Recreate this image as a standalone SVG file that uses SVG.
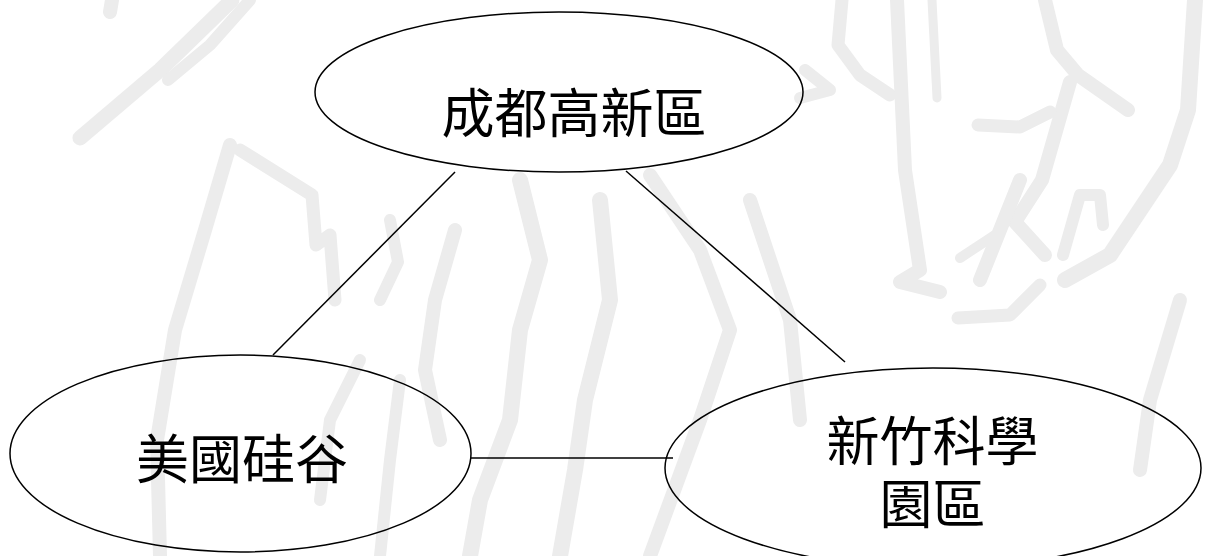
<svg xmlns="http://www.w3.org/2000/svg" width="1205" height="556" viewBox="0 0 1205 556">
<defs>
<style>
.wm{fill:none;stroke:#ececec;stroke-linecap:round;stroke-linejoin:round}
.node ellipse{fill:none;stroke:#000;stroke-width:1.5}
.node text{font-family:"Noto Sans CJK TC","Noto Sans CJK SC",sans-serif;font-size:53px;fill:#000;text-anchor:middle}
.edge{stroke:#000;stroke-width:1.5;fill:none}
</style>
</defs>
<rect width="1205" height="556" fill="#fff"/>
<g id="watermark">
<path class="wm" stroke-width="14" d="M112 0 L110 12"/>
<path class="wm" stroke-width="15" d="M232 0 L160 70 L80 138"/>
<path class="wm" stroke-width="12" d="M250 0 L210 45 L168 80"/>
<path class="wm" stroke-width="14" d="M230 145 L205 230 L175 330 L157 440 L160 556"/>
<path class="wm" stroke-width="13" d="M240 150 L312 195 L316 245 L330 235 L335 300"/>
<path class="wm" stroke-width="12" d="M390 220 L398 262 L380 300"/>
<path class="wm" stroke-width="14" d="M455 230 L435 300 L425 370 L440 440"/>
<path class="wm" stroke-width="16" d="M520 180 L540 260 L520 330 L510 420 L480 500 L470 556"/>
<path class="wm" stroke-width="16" d="M600 200 L610 300 L585 400 L575 470 L560 556"/>
<path class="wm" stroke-width="14" d="M650 175 L700 250 L730 330 L700 420 L650 556"/>
<path class="wm" stroke-width="12" d="M360 360 L330 420 L320 500"/>
<path class="wm" stroke-width="12" d="M400 380 L390 460 L380 556"/>
<path class="wm" stroke-width="14" d="M750 200 L790 320 L800 420"/>
<path class="wm" stroke-width="13" d="M842 0 L838 45 L860 75 L890 95"/>
<path class="wm" stroke-width="12" d="M805 70 L830 90 L800 98"/>
<path class="wm" stroke-width="14" d="M897 0 L905 170 L920 270 L900 282 L940 292"/>
<path class="wm" stroke-width="9" d="M932 0 L937 98"/>
<path class="wm" stroke-width="14" d="M1045 0 L1057 50 L1078 75 L1128 110"/>
<path class="wm" stroke-width="14" d="M1070 82 L1042 180 L1015 222 L1045 255"/>
<path class="wm" stroke-width="13" d="M978 125 L1020 127 L1050 112"/>
<path class="wm" stroke-width="16" d="M1195 0 L1188 110 L1170 165 L1110 255 L1065 280"/>
<path class="wm" stroke-width="12" d="M1063 255 L1080 195 L1100 195 L1103 225"/>
<path class="wm" stroke-width="10" d="M960 258 L995 235"/>
<path class="wm" stroke-width="13" d="M958 318 L1010 315 L1040 285"/>
<path class="wm" stroke-width="14" d="M1180 300 L1150 400 L1140 470"/>
<path class="wm" stroke-width="14" d="M1020 180 L980 280"/>
</g>
<g id="connectors">
<line class="edge" x1="455" y1="172" x2="273" y2="355"/>
<line class="edge" x1="626" y1="171" x2="845" y2="362"/>
<line class="edge" x1="471" y1="458" x2="673" y2="458"/>
</g>
<g id="node-chengdu" class="node">
<ellipse cx="559" cy="92" rx="244" ry="80"/>
<text x="574" y="133">成都高新區</text>
</g>
<g id="node-silicon-valley" class="node">
<ellipse cx="240.5" cy="453.5" rx="230.5" ry="98.5"/>
<text x="242" y="479">美國硅谷</text>
</g>
<g id="node-hsinchu" class="node">
<ellipse cx="933" cy="468" rx="268" ry="100"/>
<text x="932.5" y="461">新竹科學</text>
<text x="932.5" y="524">園區</text>
</g>
</svg>
